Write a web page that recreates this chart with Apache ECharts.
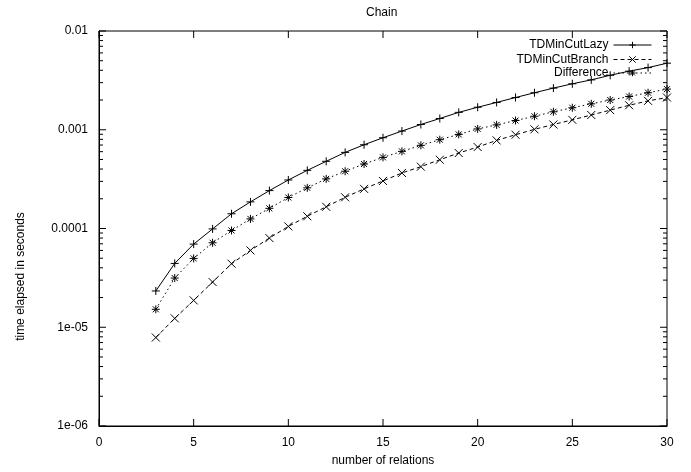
<!DOCTYPE html>
<html>
<head>
<meta charset="utf-8">
<script src="https://cdn.jsdelivr.net/npm/echarts@6/dist/echarts.min.js"></script>
<style>
  html, body { margin: 0; padding: 0; background: #fff; }
  #chart { width: 691px; height: 472px; }
</style>
</head>
<body>
<div id="chart"></div>
<script>
// number of relations
var relations = [3, 4, 5, 6, 7, 8, 9, 10, 11, 12, 13, 14, 15, 16, 17, 18, 19, 20,
  21, 22, 23, 24, 25, 26, 27, 28, 29, 30];

// time elapsed in seconds
var lazyTimes = [2.33e-5, 4.43e-5, 6.95e-5, 9.9e-5, 1.41e-4, 1.86e-4, 2.42e-4, 3.1e-4,
  3.88e-4, 4.79e-4, 5.9e-4, 7.05e-4, 8.3e-4, 9.7e-4, 1.13e-3, 1.3e-3, 1.5e-3, 1.69e-3,
  1.89e-3, 2.12e-3, 2.37e-3, 2.64e-3, 2.92e-3, 3.2e-3, 3.56e-3, 3.92e-3, 4.26e-3, 4.72e-3];
var branchTimes = [7.87e-6, 1.23e-5, 1.87e-5, 2.87e-5, 4.4e-5, 6.0e-5, 8.0e-5, 1.05e-4,
  1.33e-4, 1.66e-4, 2.07e-4, 2.52e-4, 3.03e-4, 3.65e-4, 4.23e-4, 4.97e-4, 5.81e-4, 6.68e-4,
  7.8e-4, 8.9e-4, 1.01e-3, 1.13e-3, 1.26e-3, 1.41e-3, 1.58e-3, 1.77e-3, 1.96e-3, 2.12e-3];
var diffTimes = [1.52e-5, 3.15e-5, 4.98e-5, 7.17e-5, 9.55e-5, 1.25e-4, 1.6e-4, 2.06e-4,
  2.58e-4, 3.18e-4, 3.8e-4, 4.5e-4, 5.25e-4, 6.04e-4, 6.95e-4, 7.93e-4, 8.97e-4, 1.02e-3,
  1.12e-3, 1.24e-3, 1.37e-3, 1.52e-3, 1.67e-3, 1.83e-3, 2.0e-3, 2.17e-3, 2.37e-3, 2.58e-3];

// axes
var xTicks = [0, 5, 10, 15, 20, 25, 30];
var yTicks = [1e-6, 1e-5, 1e-4, 1e-3, 1e-2];
var yTickLabels = ['1e-06', '1e-05', '0.0001', '0.001', '0.01'];
var yMinorSteps = [2, 3, 4, 5, 6, 7, 8, 9];

var FONT = 'Liberation Sans, Arial, Helvetica, sans-serif';
var MAJOR = 7, MINOR = 4;

function zip(xs, ys) {
  return xs.map(function (x, i) { return [x, ys[i]]; });
}

// y ticks: [x, value, tick length]; minor ones at 2..9 of each decade like gnuplot
var yTickMarks = yTicks.map(function (v) { return [xTicks[0], v, MAJOR]; });
yTicks.slice(0, -1).forEach(function (d) {
  yMinorSteps.forEach(function (s) { yTickMarks.push([xTicks[0], d * s, MINOR]); });
});
var xTickMarks = xTicks.map(function (x) { return [x, yTicks[0]]; });

var symPlus = 'path://M0,4L8,4M4,0L4,8';
var symCross = 'path://M0,0L8,8M0,8L8,0';
var symStar = 'path://M0,4L8,4M4,0L4,8M1,1L7,7M1,7L7,1';

function lineSeries(name, data, sym, type) {
  return {
    name: name,
    type: 'line',
    data: data,
    symbol: sym,
    symbolSize: 8,
    showAllSymbol: true,
    lineStyle: { color: '#000', width: 1, type: type },
    itemStyle: { color: '#000', borderColor: '#000', borderWidth: 1 },
    emphasis: { disabled: true }
  };
}

// one legend per entry so the icons line up in a column like gnuplot's key
function legendFor(name, top) {
  return {
    data: [name],
    right: 34,
    top: top,
    align: 'right',
    itemWidth: 38,
    itemHeight: 8,
    selectedMode: false,
    lineStyle: { width: 1 },
    itemStyle: { borderWidth: 1 },
    textStyle: { fontFamily: FONT, fontSize: 12, color: '#000' }
  };
}

var tickLine = { stroke: '#000', lineWidth: 1 };

function seg(x1, y1, x2, y2) {
  return { type: 'line', shape: { x1: x1, y1: y1, x2: x2, y2: y2 }, style: tickLine };
}

var chart = echarts.init(document.getElementById('chart'));
var xMin = xTicks[0], xMax = xTicks[xTicks.length - 1];
var yMin = yTicks[0], yMax = yTicks[yTicks.length - 1];

var option = {
  animation: false,
  backgroundColor: '#fff',
  title: {
    text: 'Chain',
    left: 361,
    top: 2,
    textStyle: { fontFamily: FONT, fontSize: 12, fontWeight: 'normal', color: '#000' }
  },
  legend: [
    legendFor('TDMinCutLazy', 34),
    legendFor('TDMinCutBranch', 48.5),
    legendFor('Difference', 62)
  ],
  grid: {
    left: 99, right: 24, top: 31, bottom: 45,
    show: true, borderColor: '#000', borderWidth: 1
  },
  xAxis: {
    type: 'value',
    min: xMin, max: xMax, interval: 5,
    name: 'number of relations',
    nameLocation: 'middle',
    nameGap: 29,
    nameTextStyle: { fontFamily: FONT, fontSize: 12, color: '#000' },
    axisLine: { show: true, lineStyle: { color: '#000' } },
    axisTick: { show: false },
    axisLabel: { fontFamily: FONT, fontSize: 12, color: '#000', margin: 11 },
    splitLine: { show: false }
  },
  yAxis: {
    type: 'log',
    logBase: 10,
    min: yMin, max: yMax,
    splitNumber: 4,
    name: 'time elapsed in seconds',
    nameLocation: 'middle',
    nameGap: 72,
    nameRotate: 90,
    nameTextStyle: { fontFamily: FONT, fontSize: 12, color: '#000', padding: [0, 96, 0, 0] },
    axisLine: { show: true, lineStyle: { color: '#000' } },
    axisTick: { show: false },
    axisLabel: {
      fontFamily: FONT, fontSize: 12, color: '#000', margin: 11,
      formatter: function (v) {
        var i = Math.round(Math.log10(v / yMin));
        return yTickLabels[i];
      }
    },
    splitLine: { show: false }
  },
  series: [
    lineSeries('TDMinCutLazy', zip(relations, lazyTimes), symPlus, 'solid'),
    lineSeries('TDMinCutBranch', zip(relations, branchTimes), symCross, [4, 3]),
    lineSeries('Difference', zip(relations, diffTimes), symStar, [1.5, 3]),
    {
      // y ticks on left and right border, pointing inwards
      type: 'custom',
      silent: true,
      data: yTickMarks,
      renderItem: function (params, api) {
        var v = api.value(1), len = api.value(2);
        var l = api.coord([xMin, v]);
        var r = api.coord([xMax, v]);
        return {
          type: 'group',
          children: [seg(l[0], l[1], l[0] + len, l[1]), seg(r[0] - len, r[1], r[0], r[1])]
        };
      }
    },
    {
      // x ticks on bottom and top border
      type: 'custom',
      silent: true,
      data: xTickMarks,
      renderItem: function (params, api) {
        var b = api.coord([api.value(0), yMin]);
        var t = api.coord([api.value(0), yMax]);
        return {
          type: 'group',
          children: [seg(b[0], b[1], b[0], b[1] - MAJOR), seg(t[0], t[1], t[0], t[1] + MAJOR)]
        };
      }
    }
  ]
};

chart.setOption(option);
</script>
</body>
</html>
